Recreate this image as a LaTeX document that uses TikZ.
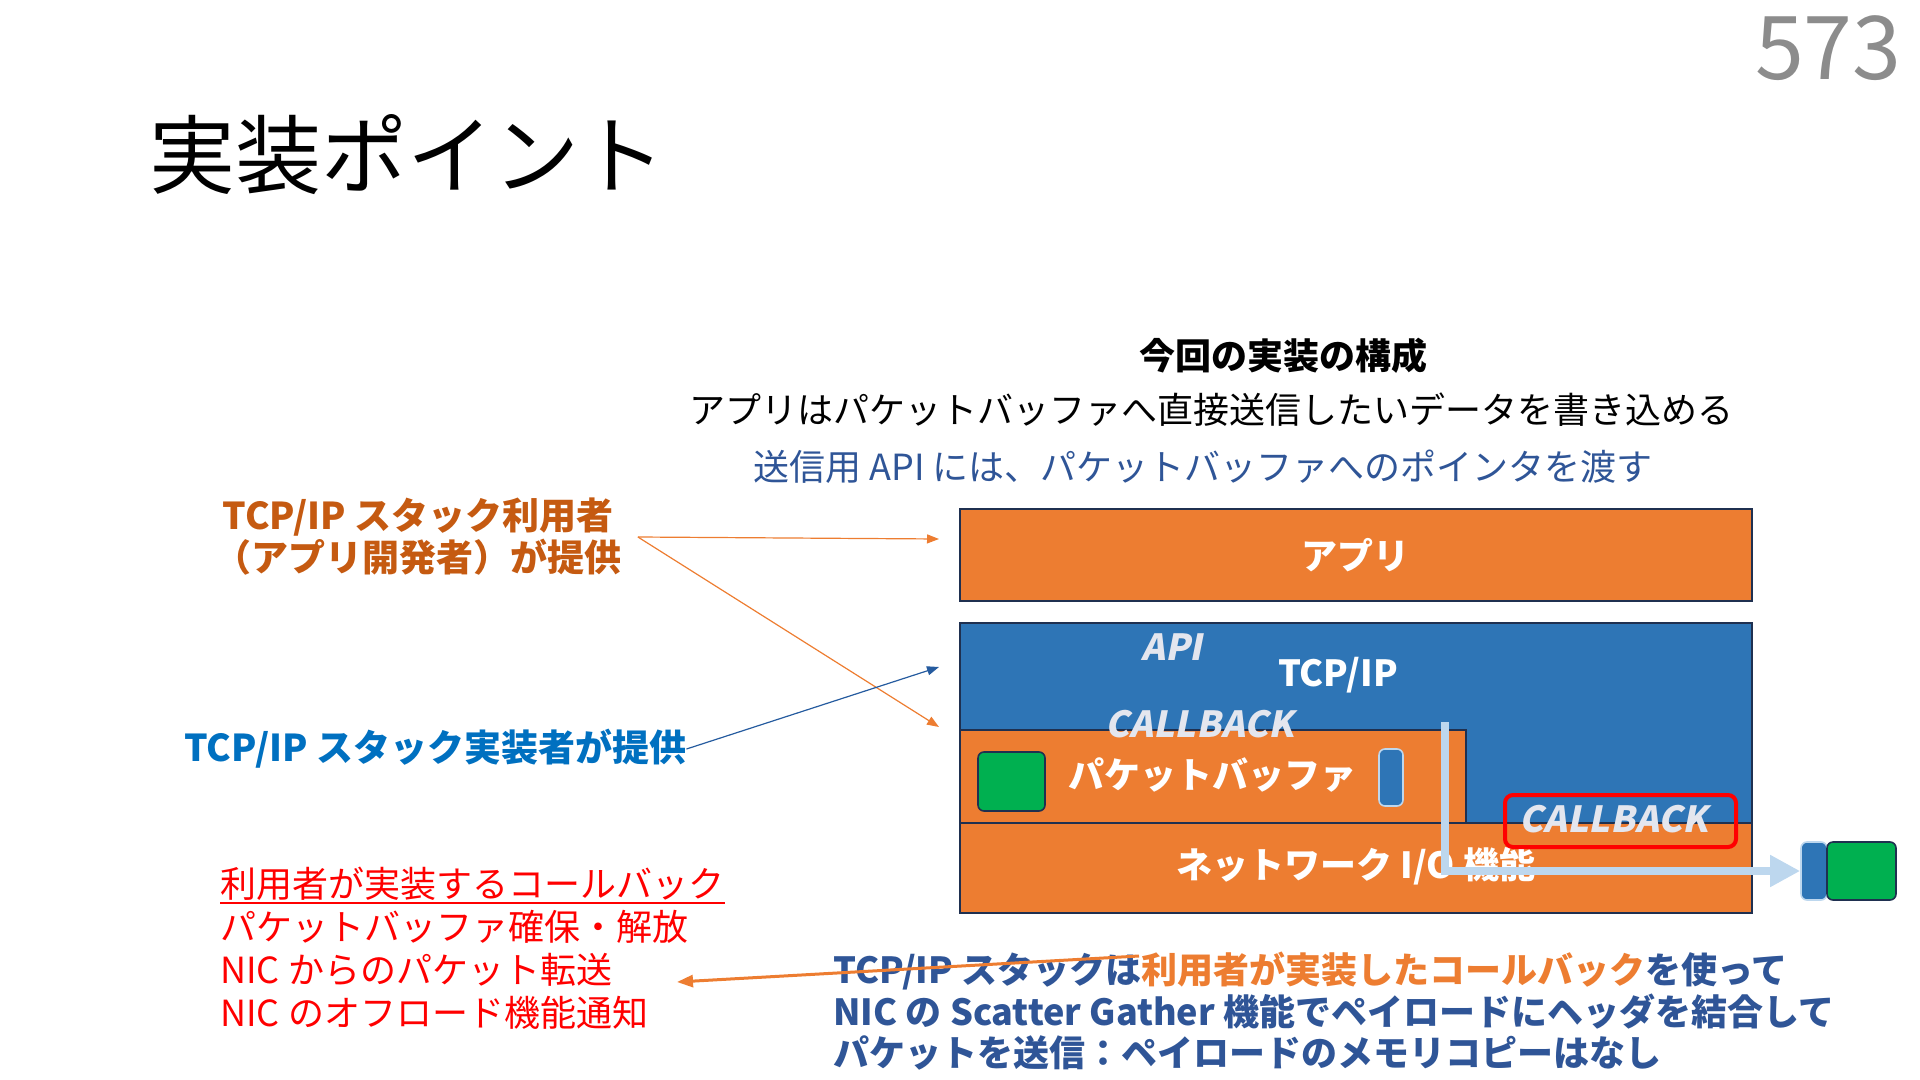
\documentclass[tikz,border=0pt]{standalone}
\usepackage{fontspec}
\setmainfont{Noto Sans CJK JP}
\newfontfamily\slantjp[FakeSlant=0.2]{Noto Sans CJK JP}
\usetikzlibrary{arrows.meta}

\begin{document}
\begin{tikzpicture}[x=0.5pt, y=-0.5pt,
  layer/.style={draw=edgenavy, line width=0.8pt, inner sep=0pt},
  chip/.style={draw=edgenavy, line width=0.8pt, rounded corners=3pt, inner sep=0pt},
  boxlabel/.style={inner sep=0pt, text=white, font=\fontsize{18}{22}\selectfont\bfseries},
  hooklabel/.style={inner sep=0pt, text=hookgray, font=\fontsize{18}{22}\selectfont\slantjp\bfseries},
  plain/.style={inner sep=0pt, font=\fontsize{18}{22}\selectfont},
  thinarrow/.style={line width=0.6pt, -{Triangle[length=6pt, width=4.5pt]}}
]
  % Define colors
  \definecolor{edgenavy}{HTML}{1F3050}
  \definecolor{layerorange}{HTML}{ED7D31}
  \definecolor{layerblue}{HTML}{2E75B6}
  \definecolor{payloadgreen}{HTML}{00B050}
  \definecolor{sgblue}{HTML}{BDD7EE}
  \definecolor{usercolor}{HTML}{C55A11}
  \definecolor{implcolor}{HTML}{0070C0}
  \definecolor{textblue}{HTML}{2F5597}
  \definecolor{pagegray}{HTML}{8C8C8C}
  \definecolor{hookgray}{HTML}{E4E6EE}

  \useasboundingbox (0,0) rectangle (1920,1080);

  % Title and page number
  \node[anchor=west, inner sep=0pt, font=\fontsize{43}{50}\selectfont] (title) at (149,155) {実装ポイント};
  \node[anchor=east, inner sep=0pt, text=pagegray, font=\fontsize{44}{50}\selectfont] (pageno) at (1902,48) {573};

  % Heading lines
  \node[plain, font=\fontsize{18}{22}\selectfont\bfseries] (head) at (1283,356) {今回の実装の構成};
  \node[plain] (write) at (1211,410) {アプリはパケットバッファへ直接送信したいデータを書き込める};
  \node[plain, text=textblue] (pass) at (1203,467) {送信用 API には、パケットバッファへのポインタを渡す};

  % Layers
  \node[layer, fill=layerorange, minimum width=396pt, minimum height=46pt] (app) at (1356,555) {};
  \node[layer, fill=layerblue, minimum width=396pt, minimum height=145pt] (tcp) at (1356,768) {};
  \node[layer, fill=layerorange, minimum width=253pt, minimum height=46.5pt] (buf) at (1213,776.5) {};
  \node[layer, fill=layerorange, minimum width=396pt, minimum height=45pt] (nio) at (1356,868) {};

  \node[boxlabel] (applabel) at (1355,555) {アプリ};
  \node[boxlabel] (tcplabel) at (1338,675) {TCP/IP};
  \node[hooklabel] (api) at (1172,647) {API};
  \node[hooklabel] (cbtop) at (1200,724) {CALLBACK};
  \node[boxlabel] (buflabel) at (1212,775) {パケットバッファ};
  \node[boxlabel] (niolabel) at (1356,866) {ネットワーク I/O 機能};

  % Payload and header chips
  \node[chip, fill=payloadgreen, minimum width=33.5pt, minimum height=29.5pt] (payload) at (1011.5,781.5) {};
  \node[chip, draw=sgblue, fill=layerblue, minimum width=12pt, minimum height=28.5pt] (header) at (1391,777.5) {};
  \node[chip, draw=sgblue, fill=layerblue, minimum width=13pt, minimum height=29pt] (nichead) at (1814,871) {};
  \node[chip, fill=payloadgreen, minimum width=34.5pt, minimum height=29pt] (nicpay) at (1861.5,871) {};

  % Scatter gather path
  \coordinate (sgtop) at (1445,722);
  \draw[sgblue, line width=4.2pt, -{Triangle[length=15pt, width=15pt]}] (sgtop) |- (nichead.west);

  % Callback slot
  \node[draw=red, line width=2pt, rounded corners=4pt, minimum width=115.5pt, minimum height=26pt, inner sep=0pt] (cbslot) at (1620.5,821) {};
  \node[hooklabel] (cbnic) at (1614,819) {CALLBACK};

  % Who provides what
  \node[inner xsep=8pt, inner ysep=0pt, align=center, text=usercolor, font=\fontsize{18.5}{21}\selectfont\bfseries] (user) at (418,537) {TCP/IP スタック利用者\\（アプリ開発者）が提供};
  \node[anchor=west, inner xsep=0pt, inner ysep=0pt, text=implcolor, font=\fontsize{18.5}{22}\selectfont\bfseries] (impl) at (184,749) {TCP/IP スタック実装者が提供};

  \coordinate (appin) at (939,539);
  \coordinate (bufin) at (939,727);
  \coordinate (tcpin) at (939,667);
  \draw[thinarrow, layerorange] (user.east) -- (appin);
  \draw[thinarrow, layerorange] (user.east) -- (bufin);
  \draw[thinarrow, textblue!80!implcolor] (impl.east) -- (tcpin);

  % Callbacks the user writes
  \node[plain, anchor=west, text=red] (cbhead) at (220,884) {利用者が実装するコールバック};
  \draw[red, line width=1pt] ([yshift=-1pt]cbhead.south west) -- ([yshift=-1pt]cbhead.south east);
  \node[plain, anchor=west, align=left, text=red, font=\fontsize{18}{21.5}\selectfont] (cblist) at (220,970) {パケットバッファ確保・解放\\NIC からのパケット転送\\NIC のオフロード機能通知};

  % Summary
  \node[plain, anchor=west, align=left, text=textblue, font=\fontsize{18}{20.75}\selectfont\bfseries] (summary) at (833,1011.5) {TCP/IP スタックは{\color{layerorange}利用者が実装したコールバック}を使って\\NIC の Scatter Gather 機能でペイロードにヘッダを結合して\\パケットを送信：ペイロードのメモリコピーはなし};

  \coordinate (cbsrc) at (1139,956);
  \coordinate (cbdst) at (677,982);
  \draw[layerorange, line width=1.5pt, -{Triangle[length=8pt, width=6pt]}] (cbsrc) -- (cbdst);
\end{tikzpicture}
\end{document}
